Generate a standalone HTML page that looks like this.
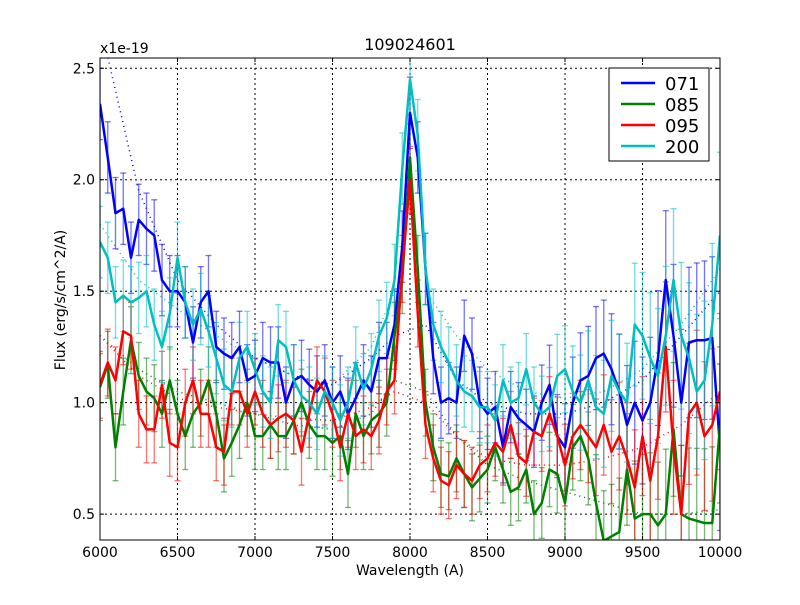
<!DOCTYPE html>
<html><head><meta charset="utf-8"><style>
body{margin:0;background:#fff;}
svg text{font-family:"DejaVu Sans","Liberation Sans",sans-serif;}
</style></head><body>
<svg id="chart" width="800" height="600" viewBox="0 0 800 600" xmlns="http://www.w3.org/2000/svg">
<rect width="800" height="600" fill="#fff"/>
<text x="410" y="50" font-size="16" text-anchor="middle">109024601</text>
<text x="100" y="53" font-size="14">x1e-19</text>
<text x="410" y="575" font-size="14" text-anchor="middle">Wavelength (A)</text>
<text x="65" y="300" font-size="14" text-anchor="middle" transform="rotate(-90 65 300)">Flux (erg/s/cm^2/A)</text>
<g id="grid"></g>
<g id="fits"></g>
<g id="errs"></g>
<g id="lines"></g>
<g id="ticks"></g>
<rect x="100" y="58" width="620" height="482" fill="none" stroke="#000" stroke-width="1"/>
<g>
<rect x="609" y="68" width="100" height="93" fill="#fff" stroke="#000"/>
<g><line x1="621" y1="83" x2="655" y2="83" stroke="#0000ff" stroke-width="2.5"/><text x="665" y="90" font-size="18">071</text></g>
<g><line x1="621" y1="104" x2="655" y2="104" stroke="#008000" stroke-width="2.5"/><text x="665" y="111" font-size="18">085</text></g>
<g><line x1="621" y1="125" x2="655" y2="125" stroke="#ff0000" stroke-width="2.5"/><text x="665" y="132" font-size="18">095</text></g>
<g><line x1="621" y1="146" x2="655" y2="146" stroke="#00bfbf" stroke-width="2.5"/><text x="665" y="153" font-size="18">200</text></g>
</g>
</svg>
<script>
const waves = [];
for (let w = 6000; w <= 10000; w += 50) waves.push(w);
const s071 = [2.34,2.1,1.85,1.87,1.65,1.82,1.78,1.75,1.55,1.5,1.5,1.45,1.27,1.45,1.5,1.25,1.22,1.2,1.25,1.1,1.12,1.2,1.18,1.18,1.0,1.1,1.12,1.08,1.05,1.1,1.0,1.05,0.95,1.02,1.1,1.05,1.2,1.2,1.35,1.7,2.3,2.1,1.6,1.2,1.0,1.02,1.0,1.3,1.22,1.0,0.95,0.98,0.8,0.98,0.93,0.9,0.87,1.0,1.08,0.85,0.8,1.0,1.1,1.12,1.2,1.22,1.15,1.05,0.9,1.0,0.92,1.0,1.2,1.55,1.3,1.0,1.27,1.28,1.28,1.29,0.8];
const s085 = [1.07,1.17,0.8,1.05,1.28,1.12,1.05,1.02,0.95,1.1,0.95,0.85,0.95,1.0,1.1,0.95,0.75,0.82,0.9,1.0,0.85,0.85,0.9,0.85,0.85,0.92,1.0,0.9,0.85,0.85,0.82,0.85,0.68,0.95,0.85,0.92,0.95,1.0,1.3,1.55,2.1,1.6,1.0,0.8,0.68,0.67,0.75,0.68,0.62,0.66,0.7,0.8,0.7,0.6,0.62,0.7,0.5,0.55,0.7,0.68,0.55,0.8,0.85,0.75,0.55,0.38,0.4,0.42,0.7,0.48,0.5,0.5,0.45,0.5,0.88,0.5,0.48,0.47,0.46,0.46,0.9];
const s095 = [1.08,1.18,1.1,1.32,1.3,0.95,0.88,0.88,1.08,0.82,0.8,1.0,1.1,0.95,0.95,0.8,0.78,1.05,1.05,0.95,1.05,0.95,0.9,0.93,0.95,0.92,0.78,0.95,1.1,1.05,0.95,0.8,0.95,0.85,0.88,0.85,0.92,1.05,1.1,1.6,2.0,1.4,0.9,0.75,0.65,0.63,0.72,0.68,0.65,0.72,0.75,0.82,0.78,0.9,0.76,0.73,0.87,0.85,0.95,0.85,0.72,0.85,0.9,0.85,0.8,0.9,0.78,0.85,0.75,0.62,0.85,0.65,0.85,1.25,0.8,0.5,0.95,1.0,0.85,0.9,1.05];
const s200 = [1.72,1.65,1.45,1.48,1.45,1.47,1.5,1.35,1.25,1.4,1.65,1.45,1.35,1.42,1.32,1.2,1.08,1.05,1.2,1.25,1.15,1.05,1.0,1.28,1.25,1.1,1.03,1.0,0.95,1.05,1.0,0.92,1.0,1.18,1.06,1.15,1.3,1.38,1.55,2.05,2.45,2.2,1.6,1.35,1.25,1.18,1.1,1.05,1.03,0.98,0.98,0.92,1.1,1.0,1.02,1.15,1.0,0.95,0.98,1.12,1.15,1.05,1.0,1.1,0.98,0.95,1.12,1.05,1.0,1.35,1.3,1.2,1.12,1.3,1.55,1.3,1.2,1.05,1.1,1.35,1.75];
const seriesNames = ["071","085","095","200"];
const seriesColors = ["#0000ff","#008000","#ff0000","#00bfbf"];
const seriesErr = [0.16,0.15,0.15,0.16];
const fitWaves = [6000,6250,6500,6750,7000,7250,7500,7750,7900,8100,8300,8500,8750,9000,9250,9500,9750,10000];
const fit071 = [2.7,1.95,1.55,1.35,1.2,1.12,1.08,1.2,1.3,1.35,1.1,1.0,0.95,0.95,1.0,1.1,1.3,1.5];
const fit085 = [1.3,1.15,1.05,1.0,0.95,0.9,0.88,0.95,1.1,1.05,0.85,0.72,0.65,0.6,0.55,0.5,0.5,0.52];
const fit095 = [1.3,1.12,1.02,0.98,0.95,0.93,0.92,0.98,1.05,1.0,0.85,0.75,0.72,0.72,0.75,0.8,0.9,1.05];
const fit200 = [1.8,1.55,1.42,1.3,1.2,1.12,1.08,1.25,1.5,1.5,1.3,1.15,1.05,1.02,1.05,1.15,1.35,1.6];
const xTicks = [6000,6500,7000,7500,8000,8500,9000,9500,10000];
const yTicks = [0.5,1.0,1.5,2.0,2.5];
const NS = "http://www.w3.org/2000/svg";
const X0=100,X1=720,Y0=540,Y1=58,XMIN=6000,XMAX=10000,YMIN=0.384,YMAX=2.546;
function xs(w){return X0+(w-XMIN)/(XMAX-XMIN)*(X1-X0);}
function ys(v){return Y0-(v-YMIN)/(YMAX-YMIN)*(Y0-Y1);}
function mk(tag,attrs,parent){const e=document.createElementNS(NS,tag);for(const k in attrs)e.setAttribute(k,attrs[k]);parent.appendChild(e);return e;}
const svg=document.getElementById('chart');
mk('clipPath',{id:'clip'},svg).appendChild((()=>{const r=document.createElementNS(NS,'rect');r.setAttribute('x',X0);r.setAttribute('y',Y1);r.setAttribute('width',X1-X0);r.setAttribute('height',Y0-Y1);return r;})());
const grid=document.getElementById('grid'),ticks=document.getElementById('ticks');
xTicks.forEach(t=>{const x=xs(t);
 const g=mk('line',{x1:x,x2:x,y1:Y1,y2:Y0,stroke:'#000','stroke-dasharray':'2,3','stroke-width':1},grid);
 
 
 mk('line',{x1:x,x2:x,y1:Y0,y2:Y0-4,stroke:'#000'},ticks);mk('line',{x1:x,x2:x,y1:Y1,y2:Y1+4,stroke:'#000'},ticks);
 const tx=mk('text',{x:x,y:Y0+17,'font-size':14,'text-anchor':'middle'},ticks);tx.textContent=t;
 
 });
yTicks.forEach(t=>{const y=ys(t);
 const g=mk('line',{x1:X0,x2:X1,y1:y,y2:y,stroke:'#000','stroke-dasharray':'2,3','stroke-width':1},grid);
 
 
 mk('line',{x1:X0,x2:X0+4,y1:y,y2:y,stroke:'#000'},ticks);mk('line',{x1:X1,x2:X1-4,y1:y,y2:y,stroke:'#000'},ticks);
 const tx=mk('text',{x:X0-5,y:y+5,'font-size':14,'text-anchor':'end'},ticks);tx.textContent=t.toFixed(1);
 
 });
const data=[s071,s085,s095,s200],fits=[fit071,fit085,fit095,fit200];
const gf=document.getElementById('fits'),ge=document.getElementById('errs'),gl=document.getElementById('lines');
[gf,ge,gl].forEach(g=>g.setAttribute('clip-path','url(#clip)'));
data.forEach((s,i)=>{const c=seriesColors[i];
 const fp=mk('polyline',{points:fitWaves.map((w,j)=>xs(w)+','+ys(fits[i][j])).join(' '),fill:'none',stroke:c,'stroke-width':1.5,'stroke-dasharray':'1,4'},gf);
 
 
 s.forEach((v,j)=>{const x=xs(waves[j]);const e=seriesErr[i]*(1+Math.max(0,waves[j]-8800)/900);
  const eg=mk('g',{stroke:c,'stroke-opacity':0.55,'stroke-width':1.3},ge);
  
  
  mk('line',{x1:x,x2:x,y1:ys(v-e),y2:ys(v+e)},eg);
  mk('line',{x1:x-3,x2:x+3,y1:ys(v-e),y2:ys(v-e)},eg);
  mk('line',{x1:x-3,x2:x+3,y1:ys(v+e),y2:ys(v+e)},eg);});
 const p=mk('polyline',{points:s.map((v,j)=>xs(waves[j])+','+ys(v)).join(' '),fill:'none',stroke:c,'stroke-width':2.5,'stroke-linejoin':'round'},gl);
 
 });
</script>
</body></html>
